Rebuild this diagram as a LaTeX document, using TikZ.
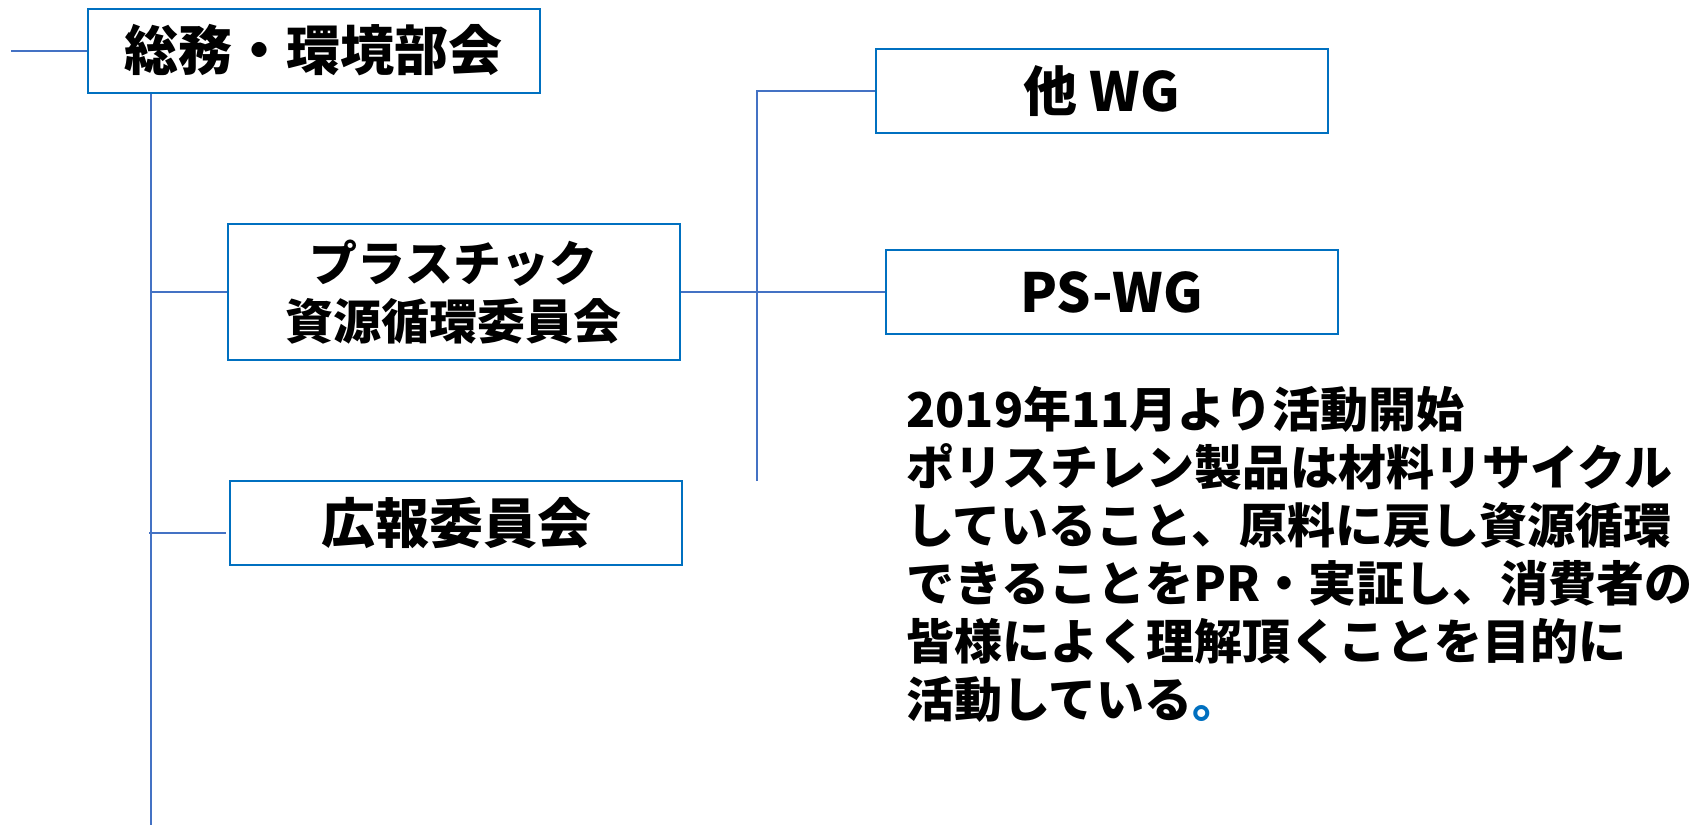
\documentclass[tikz,border=0pt]{standalone}
\usepackage{fontspec}
\setmainfont{Noto Sans CJK JP}
\usepackage{tikz}
\usetikzlibrary{positioning}
\definecolor{linkblue}{RGB}{68,114,196}
\definecolor{boxblue}{RGB}{0,112,192}

\begin{document}
\begin{tikzpicture}[x=0.5pt,y=-0.5pt]
        \tikzstyle{unit}=[draw=boxblue,line width=1pt,rectangle,minimum width=226pt,
            inner sep=0pt,font=\bfseries\fontsize{27}{29}\selectfont]
        \tikzstyle{link}=[draw=linkblue,line width=1pt]
            \useasboundingbox (0,0) rectangle (1706,825);

            \node[unit, minimum height=42pt] (soumu) at (313.5,50.5) {総務・環境部会};
            \node[unit, minimum height=68pt, align=center,
                font=\bfseries\fontsize{24}{29}\selectfont] (plastic) at (453.5,292)
                {プラスチック\\資源循環委員会};
            \node[unit, minimum height=42pt] (kouhou) at (456,523) {広報委員会};
            \node[unit, minimum height=42pt] (otherwg) at (1101.5,91) {他 WG};
            \node[unit, minimum height=42pt] (pswg) at (1111.5,292) {PS-WG};

            \node[anchor=north west, inner sep=0pt, align=left,
                font=\bfseries\fontsize{24}{29}\selectfont] (note) at (906,386)
                {2019年11月より活動開始\\
                ポリスチレン製品は材料リサイクル\\
                していること、原料に戻し資源循環\\
                できることをPR・実証し、消費者の\\
                皆様によく理解頂くことを目的に\\
                活動している{\color{boxblue}。}};

            \coordinate (stub) at (11,50.5);
            \coordinate (trunk) at (151,825);
            \coordinate (kbranch) at (226,533);
            \coordinate (wgtrunk) at (757,481);

            \draw[link] (stub) -- (soumu.west);
            \draw[link] (soumu.south -| trunk) -- (trunk);
            \draw[link] (plastic.west -| trunk) -- (plastic.west);
            \draw[link] ([xshift=-1pt]kbranch -| trunk) -- (kbranch);
            \draw[link] (plastic.east) -- (pswg.west);
            \draw[link] (wgtrunk) |- (otherwg.west);
        \end{tikzpicture}
\end{document}
